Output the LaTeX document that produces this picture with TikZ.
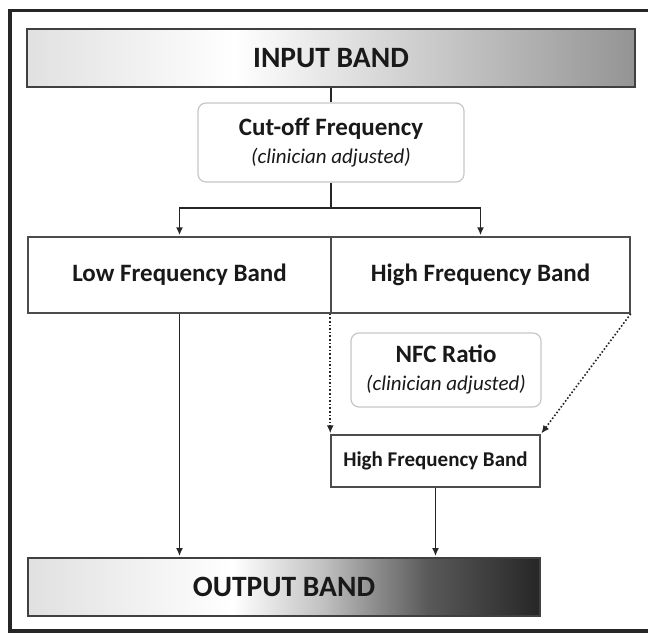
\documentclass[tikz,border=0pt]{standalone}
\usepackage{fontspec}
\setmainfont{Carlito}
\usetikzlibrary{arrows.meta, positioning, calc}

\pgfdeclarehorizontalshading{inshade}{100bp}{color(0bp)=(black!12); color(25bp)=(black!12); color(42bp)=(white); color(75bp)=(black!42); color(100bp)=(black!42)}
\pgfdeclarehorizontalshading{outshade}{100bp}{color(0bp)=(black!12); color(25bp)=(black!12); color(45bp)=(white); color(54bp)=(black!25); color(64bp)=(black!65); color(75bp)=(black!85); color(100bp)=(black!85)}

\begin{document}
\begin{tikzpicture}[
    x=1pt, y=-1pt,
    band/.style={rectangle, draw=black!75, line width=1.8pt, inner sep=0pt, text=black!90, font=\bfseries\fontsize{29.5}{34}\selectfont},
    bandbox/.style={rectangle, draw=black!70, line width=1.5pt, inner sep=0pt, text=black!90, font=\bfseries\fontsize{25}{30}\selectfont},
    setbox/.style={rectangle, draw=gray!45, line width=1.2pt, rounded corners=8pt, inner sep=0pt, align=center, text=black!90, font=\fontsize{21}{28}\selectfont},
    plain/.style={draw, black!85, line width=1.6pt},
    line/.style={plain, -{Latex[length=8pt, width=7pt]}, shorten >=1pt},
    dottedline/.style={line, dotted}
]

    \useasboundingbox (0,0) rectangle (648,632);
    \draw[line width=3.5pt, black!85] (660,10.5) -- (10,10.5) -- (10,631) -- (660,631);

    \node [band, shading=inshade, minimum width=608pt, minimum height=58pt] (inband) at (331,58) {INPUT BAND};
    \node [setbox, minimum width=266pt, minimum height=79pt] (cutoff) at (331,142.5) {{\bfseries\fontsize{25}{30}\selectfont Cut-off Frequency}\\{\itshape (clinician adjusted)}};

    \coordinate (split) at (331,208);

    \node [bandbox, minimum width=303pt, minimum height=76pt] (low) at (179.5,275) {Low Frequency Band};
    \node [bandbox, minimum width=299pt, minimum height=76pt] (high) at (480.5,275) {High Frequency Band};

    \node [setbox, minimum width=190pt, minimum height=74pt] (nfc) at (446,370) {{\bfseries\fontsize{25}{30}\selectfont NFC Ratio}\\{\itshape (clinician adjusted)}};
    \node [bandbox, minimum width=209pt, minimum height=52pt, font=\bfseries\fontsize{21}{25}\selectfont] (hfb) at (435.5,461) {High Frequency Band};

    \node [band, shading=outshade, minimum width=512pt, minimum height=58pt] (outband) at (284,587) {OUTPUT BAND};

    \draw [plain] (inband) -- (cutoff);
    \draw [plain] (cutoff) -- (split);
    \draw [line] (split) -| (low);
    \draw [line] (split) -| (high);

    \draw [line] (low) -- (low |- outband.north);
    \draw [dottedline] (high.south west) -- (hfb.north west);
    \draw [dottedline] (high.south east) -- (hfb.north east);
    \draw [line] (hfb) -- (hfb |- outband.north);

\end{tikzpicture}
\end{document}
